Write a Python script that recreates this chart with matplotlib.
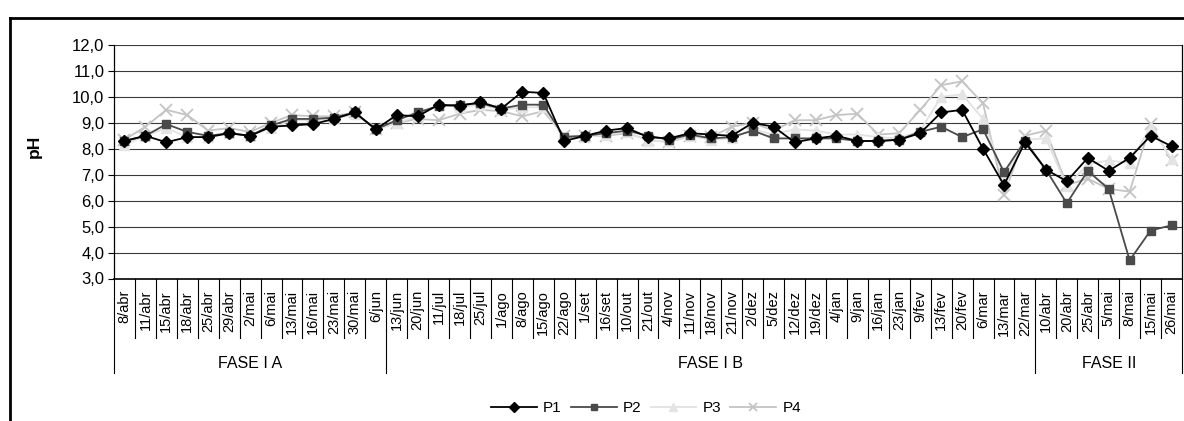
import matplotlib
matplotlib.use("Agg")
import matplotlib.pyplot as plt
from matplotlib.lines import Line2D
import matplotlib.transforms as mtransforms

plt.rcParams['font.family'] = ['Liberation Sans', 'DejaVu Sans']

datas = ['8/abr', '11/abr', '15/abr', '18/abr', '25/abr', '29/abr', '2/mai', '6/mai',
         '13/mai', '16/mai', '23/mai', '30/mai', '6/jun',
         '13/jun', '20/jun', '11/jul', '18/jul', '25/jul', '1/ago', '8/ago', '15/ago',
         '22/ago', '1/set', '16/set', '10/out', '21/out', '4/nov', '11/nov', '18/nov',
         '21/nov', '2/dez', '5/dez', '12/dez', '19/dez', '4/jan', '9/jan', '16/jan',
         '23/jan', '9/fev', '13/fev', '20/fev', '6/mar', '13/mar', '22/mar',
         '10/abr', '20/abr', '25/abr', '5/mai', '8/mai', '15/mai', '26/mai']

fases = ['FASE I A', 'FASE I B', 'FASE II']
n_fase = [13, 31, 7]

p1 = [8.3, 8.5, 8.25, 8.45, 8.45, 8.6, 8.5, 8.85, 8.9, 8.95, 9.15, 9.4, 8.75,
      9.3, 9.25, 9.7, 9.65, 9.8, 9.55, 10.2, 10.15, 8.3, 8.5, 8.7, 8.8, 8.45, 8.4,
      8.6, 8.55, 8.5, 9.0, 8.85, 8.25, 8.4, 8.5, 8.3, 8.3, 8.35, 8.6, 9.4, 9.5,
      8.0, 6.6, 8.25,
      7.2, 6.75, 7.65, 7.15, 7.65, 8.5, 8.1]
p2 = [8.3, 8.5, 8.95, 8.65, 8.5, 8.6, 8.5, 8.9, 9.15, 9.15, 9.2, 9.4, 8.75,
      9.1, 9.4, 9.65, 9.7, 9.75, 9.55, 9.7, 9.7, 8.45, 8.5, 8.6, 8.7, 8.5, 8.35,
      8.55, 8.4, 8.45, 8.7, 8.4, 8.4, 8.4, 8.4, 8.3, 8.3, 8.35, 8.65, 8.85, 8.45,
      8.75, 7.1, 8.3,
      7.2, 5.9, 7.15, 6.45, 3.7, 4.85, 5.05]
p3 = [8.15, 8.5, 8.8, 8.45, 8.45, 8.6, 8.5, 8.8, 9.1, 9.1, 9.15, 9.35, 8.75,
      9.0, 9.25, 9.7, 9.6, 9.7, 9.5, 9.6, 9.6, 8.4, 8.45, 8.55, 8.65, 8.3, 8.3,
      8.5, 8.35, 8.4, 8.75, 8.55, 8.75, 8.7, 8.55, 8.55, 8.45, 8.4, 8.7, 10.0, 10.1,
      9.15, 6.9, 8.35,
      8.4, 6.55, 7.4, 7.55, 7.45, 8.85, 7.6]
p4 = [8.35, 8.85, 9.5, 9.3, 8.7, 8.8, 8.65, 9.0, 9.3, 9.25, 9.25, 9.4, 8.75,
      9.0, 9.15, 9.1, 9.35, 9.5, 9.45, 9.25, 9.45, 8.5, 8.5, 8.5, 8.6, 8.35, 8.25,
      8.5, 8.45, 8.85, 9.0, 8.7, 9.1, 9.1, 9.3, 9.35, 8.55, 8.6, 9.5, 10.45, 10.6,
      9.75, 6.2, 8.5,
      8.7, 6.6, 6.85, 6.45, 6.35, 8.95, 7.55]

W, H = 1184, 421
fig = plt.figure(figsize=(W / 100, H / 100), dpi=100)
ax = fig.add_axes([114 / W, 1 - 278.5 / H, (1182 - 114) / W, (278.5 - 45) / H])

x = list(range(len(datas)))
ax.plot(x, p4, color='#c4c4c4', lw=1.3, marker='x', ms=8, mew=1.3, label='P4', zorder=3)
ax.plot(x, p3, color='#e2e2e2', lw=1.3, marker='^', ms=7.5, mec='#e4e4e4', mfc='#e4e4e4', label='P3', zorder=4)
ax.plot(x, p2, color='#4a4a4a', lw=1.3, marker='s', ms=6, label='P2', zorder=5)
ax.plot(x, p1, color='black', lw=1.3, marker='D', ms=6, label='P1', zorder=6)

ax.set_xlim(-0.5, len(datas) - 0.5)
ax.set_ylim(3, 12)
ax.set_yticks(range(3, 13))
ax.set_yticklabels(['%d,0' % v for v in range(3, 13)], fontsize=12)
ax.tick_params(axis='y', length=4, width=0.8, direction='out', pad=3)
ax.set_xticks([])
for v in range(4, 13):
    ax.axhline(v, color='#3a3a3a', lw=0.8, zorder=1)
ax.spines['top'].set_visible(False)
for s in ['left', 'right', 'bottom']:
    ax.spines[s].set_color('black')
    ax.spines[s].set_linewidth(0.9)
ax.spines['bottom'].set_linewidth(1.2)

ax.set_ylabel('pH', fontsize=12.5, fontweight='bold')
ax.yaxis.set_label_coords(-(114 - 42) / 1068, (278.5 - 146) / 233.5)

# category axis drawn by hand
trans = mtransforms.blended_transform_factory(ax.transData, ax.transAxes)
ax_h = 278.5 - 45
tick_low = -(337.7 - 278.5) / ax_h
grp_low = -(373 - 278.5) / ax_h
lbl_y = -(290 - 278.5) / ax_h
fase_y = -(363 - 278.5) / ax_h

bounds = [0]
for n in n_fase:
    bounds.append(bounds[-1] + n)
for k in range(len(datas) + 1):
    low = grp_low if k in bounds else tick_low
    ax.add_line(Line2D([k - 0.5, k - 0.5], [0, low], transform=trans,
                       color='black', lw=0.8, clip_on=False))
for i, lab in enumerate(datas):
    ax.text(i, lbl_y, lab, transform=trans, rotation=90, ha='center', va='top', fontsize=10.5)
for j, f in enumerate(fases):
    xc = (bounds[j] + bounds[j + 1]) / 2 - 0.5
    ax.text(xc, fase_y, f, transform=trans, ha='center', va='center', fontsize=11.5)

handles, labels = ax.get_legend_handles_labels()
order = [3, 2, 1, 0]
fig.legend([handles[i] for i in order], [labels[i] for i in order],
           loc='center', bbox_to_anchor=(646 / W, 1 - 408 / H), ncol=4, frameon=False,
           fontsize=11, handlelength=3.0, handletextpad=0.4, columnspacing=0.6,
           markerscale=0.8)

# outer chart border
fig.add_artist(Line2D([10 / W, 10 / W], [0, 1 - 18 / H], transform=fig.transFigure, color='black', lw=2))
fig.add_artist(Line2D([10 / W, 1], [1 - 18 / H, 1 - 18 / H], transform=fig.transFigure, color='black', lw=2))

fig.savefig('out.png', dpi=100)
